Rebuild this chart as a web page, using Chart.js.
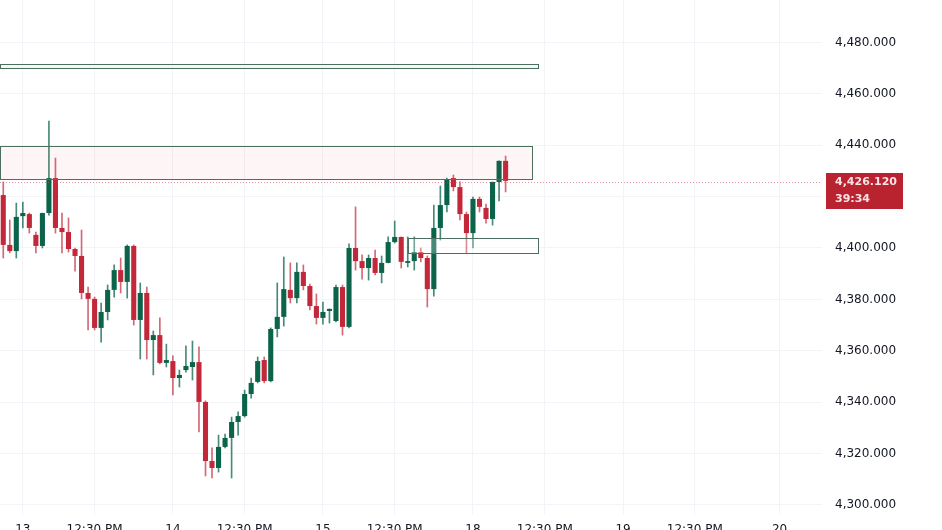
<!DOCTYPE html>
<html>
<head>
<meta charset="utf-8">
<title>XAUUSD 1H</title>
<script src="https://cdn.jsdelivr.net/npm/chart.js@4.4.1/dist/chart.umd.min.js"></script>
<style>
  html, body { margin: 0; padding: 0; background: #ffffff; }
  #wrap { width: 942px; height: 530px; }
</style>
</head>
<body>
<div id="wrap"><canvas id="candleChart" width="942" height="530"></canvas></div>
<script>
"use strict";

//velas de 1 hora
var opens = [4420.6, 4401.2, 4398.8, 4412.4, 4413.2, 4405.1, 4400.8, 4413.6, 4427.2, 4407.8,
  4406.2, 4399.6, 4396.9, 4382.5, 4380.2, 4368.9, 4375.1, 4383.7, 4391.4, 4386.8,
  4400.8, 4372.0, 4382.5, 4364.2, 4366.1, 4355.3, 4356.0, 4349.4, 4352.5, 4353.7,
  4355.6, 4340.1, 4317.1, 4314.4, 4322.6, 4326.1, 4332.3, 4334.6, 4343.2, 4347.9,
  4356.4, 4348.2, 4368.5, 4373.2, 4383.7, 4380.5, 4390.7, 4385.2, 4377.4, 4372.8,
  4375.5, 4371.6, 4384.8, 4369.3, 4400.0, 4394.9, 4392.2, 4396.1, 4390.3, 4394.2,
  4402.3, 4404.3, 4394.2, 4394.9, 4398.4, 4396.1, 4384.0, 4407.8, 4416.7, 4427.2,
  4423.7, 4413.2, 4405.8, 4419.1, 4415.6, 4411.3, 4425.7, 4433.9];
var highs = [4425.7, 4410.9, 4417.5, 4417.9, 4413.6, 4406.2, 4413.6, 4449.4, 4435.0, 4413.6,
  4411.7, 4400.0, 4407.0, 4384.8, 4380.9, 4378.6, 4385.6, 4393.4, 4396.1, 4401.2,
  4401.2, 4386.4, 4384.8, 4367.7, 4372.8, 4362.6, 4358.0, 4352.5, 4361.9, 4363.8,
  4361.5, 4340.5, 4322.2, 4327.2, 4327.6, 4334.2, 4336.2, 4344.7, 4349.4, 4357.6,
  4357.6, 4368.9, 4386.4, 4396.5, 4394.2, 4394.2, 4393.4, 4386.0, 4382.1, 4379.0,
  4376.3, 4385.6, 4385.6, 4401.6, 4416.0, 4397.3, 4397.3, 4399.2, 4396.9, 4404.3,
  4410.5, 4404.3, 4404.3, 4404.3, 4400.0, 4396.9, 4416.7, 4424.1, 4427.2, 4428.4,
  4425.7, 4414.0, 4419.8, 4419.8, 4417.1, 4425.7, 4433.9, 4435.8];
var lows = [4396.1, 4398.1, 4396.1, 4407.8, 4405.8, 4398.1, 4400.0, 4412.8, 4405.8, 4398.1,
  4398.4, 4391.0, 4380.2, 4368.1, 4368.1, 4363.4, 4372.0, 4380.9, 4382.5, 4380.5,
  4370.0, 4356.8, 4356.8, 4350.6, 4354.9, 4353.7, 4342.8, 4345.9, 4351.7, 4348.6,
  4328.4, 4311.3, 4310.5, 4312.8, 4322.2, 4310.5, 4327.2, 4334.2, 4341.6, 4347.5,
  4347.5, 4347.9, 4365.4, 4369.6, 4378.6, 4378.6, 4383.7, 4375.9, 4370.4, 4370.4,
  4370.8, 4371.2, 4366.1, 4368.9, 4391.4, 4387.9, 4387.5, 4389.5, 4386.4, 4394.2,
  4401.9, 4392.2, 4392.6, 4391.4, 4394.6, 4377.0, 4381.3, 4403.1, 4414.0, 4422.2,
  4410.9, 4398.1, 4400.0, 4414.0, 4409.7, 4408.9, 4418.3, 4421.8];
var closes = [4401.2, 4398.8, 4412.1, 4413.6, 4407.8, 4400.8, 4413.6, 4427.2, 4407.8, 4406.2,
  4399.6, 4396.9, 4382.5, 4380.2, 4368.9, 4375.1, 4383.7, 4391.4, 4386.8, 4400.8,
  4372.0, 4382.5, 4364.2, 4366.1, 4355.3, 4356.4, 4349.4, 4350.6, 4354.1, 4355.6,
  4340.1, 4317.1, 4314.4, 4322.6, 4326.1, 4332.3, 4334.6, 4343.2, 4347.5, 4356.0,
  4348.2, 4368.5, 4373.2, 4384.0, 4380.5, 4390.7, 4385.2, 4377.4, 4372.8, 4375.1,
  4376.3, 4384.8, 4369.3, 4400.0, 4394.9, 4392.2, 4396.1, 4390.3, 4394.2, 4402.3,
  4404.3, 4394.6, 4394.9, 4398.4, 4396.1, 4384.0, 4407.8, 4416.7, 4426.8, 4423.7,
  4413.2, 4405.8, 4419.1, 4416.0, 4411.3, 4425.7, 4433.9, 4426.12];

//eje de tiempo
var totalSlots = 126;
var tickSlots = [3, 14, 26, 37, 49, 60, 72, 83, 95, 106, 119];
var tickTexts = ['13', '12:30 PM', '14', '12:30 PM', '15', '12:30 PM', '18', '12:30 PM', '19', '12:30 PM', '20'];

//eje de precios
var priceTicks = [4300, 4320, 4340, 4360, 4380, 4400, 4420, 4440, 4460, 4480];

//zonas: [desde, hasta, precio bajo, precio alto]
var zoneFrom = [-0.5, -0.5, 62];
var zoneTo = [82, 81, 82];
var zoneLow = [4470.0, 4426.8, 4398.1];
var zoneHigh = [4471.6, 4439.7, 4403.9];

var lastPrice = 4426.12;
var countdown = '39:34';

var upColor = '#0b634a';
var downColor = '#c2283a';
var fontName = '"DejaVu Sans", sans-serif';

var labels = [];
var bodies = [];
var wicks = [];
var bodyColors = [];
var wickColors = [];
for (var i = 0; i < totalSlots; i++) {
  var pos = tickSlots.indexOf(i);
  labels.push(pos >= 0 ? tickTexts[pos] : '');
  if (i < opens.length) {
    var up = closes[i] >= opens[i];
    bodies.push([opens[i], closes[i]]);
    wicks.push([lows[i], highs[i]]);
    bodyColors.push(up ? upColor : downColor);
    wickColors.push(up ? 'rgba(11,99,74,0.75)' : 'rgba(194,40,58,0.7)');
  } else {
    bodies.push(null);
    wicks.push(null);
    bodyColors.push(upColor);
    wickColors.push(upColor);
  }
}

var zoneFills = ['rgba(240,244,242,0.6)', 'rgba(242,54,69,0.05)', 'rgba(255,255,255,0.25)'];

// quitar el relleno que chart.js deja para las etiquetas de los extremos
function noPadding(axis) {
  axis.paddingTop = 0;
  axis.paddingBottom = 0;
  axis.paddingLeft = 0;
  axis.paddingRight = 0;
}

var zonesPlugin = {
  id: 'zones',
  afterDatasetsDraw: function (chart) {
    var ctx = chart.ctx;
    var xs = chart.scales.x;
    var ys = chart.scales.y;
    var area = chart.chartArea;
    ctx.save();
    ctx.beginPath();
    ctx.rect(area.left, area.top, area.right - area.left, area.bottom - area.top);
    ctx.clip();
    for (var z = 0; z < zoneFrom.length; z++) {
      var x0 = Math.round(xs.getPixelForValue(zoneFrom[z]));
      var x1 = Math.round(xs.getPixelForValue(zoneTo[z]));
      var y0 = Math.round(ys.getPixelForValue(zoneHigh[z]));
      var y1 = Math.round(ys.getPixelForValue(zoneLow[z]));
      ctx.fillStyle = zoneFills[z];
      ctx.fillRect(x0, y0, x1 - x0, y1 - y0);
      ctx.strokeStyle = '#4d6f60';
      ctx.lineWidth = 1;
      ctx.strokeRect(x0 + 0.5, y0 + 0.5, x1 - x0, y1 - y0);
    }
    //linea del ultimo precio
    var py = Math.round(ys.getPixelForValue(lastPrice)) + 1.5;
    ctx.setLineDash([1, 2]);
    ctx.strokeStyle = 'rgba(214,80,95,0.6)';
    ctx.beginPath();
    ctx.moveTo(area.left, py);
    ctx.lineTo(area.right, py);
    ctx.stroke();
    ctx.restore();
  },
  afterDraw: function (chart) {
    var ctx = chart.ctx;
    var ys = chart.scales.y;
    var area = chart.chartArea;
    var py = Math.round(ys.getPixelForValue(lastPrice));
    ctx.save();
    ctx.fillStyle = '#b8232f';
    ctx.fillRect(area.right + 4, py - 8, 77, 36);
    ctx.fillStyle = '#fbe3e5';
    ctx.font = 'bold 11px ' + fontName;
    ctx.textBaseline = 'middle';
    ctx.textAlign = 'left';
    ctx.fillText(lastPrice.toLocaleString('en-US', { minimumFractionDigits: 3 }), area.right + 13, py + 1);
    ctx.fillText(countdown, area.right + 13, py + 18);
    ctx.restore();
  }
};

//-------------
//- CANDLE CHART -
//-------------
var candleCanvas = document.getElementById('candleChart').getContext('2d');
var candleChart = new Chart(candleCanvas, {
  type: 'bar',
  data: {
    labels: labels,
    datasets: [
      {
        label: 'Cuerpo',
        data: bodies,
        backgroundColor: bodyColors,
        borderWidth: 0,
        grouped: false,
        categoryPercentage: 1,
        barPercentage: 0.78,
        minBarLength: 1,
        order: 1
      },
      {
        label: 'Mecha',
        data: wicks,
        backgroundColor: wickColors,
        borderWidth: 0,
        grouped: false,
        barThickness: 1,
        order: 2
      }
    ]
  },
  options: {
    responsive: false,
    animation: false,
    devicePixelRatio: 1,
    layout: { padding: 0 },
    plugins: {
      legend: { display: false },
      tooltip: { enabled: false }
    },
    scales: {
      x: {
        offset: true,
        border: { display: false },
        grid: {
          drawTicks: false,
          offset: false,
          color: function (c) {
            return c.tick && c.tick.label ? '#f3f4f7' : 'rgba(0,0,0,0)';
          }
        },
        ticks: {
          autoSkip: false,
          maxRotation: 0,
          padding: 8,
          color: '#131722',
          font: { family: fontName, size: 12 }
        },
        afterFit: function (axis) {
          axis.height = 15;
          noPadding(axis);
        }
      },
      y: {
        position: 'right',
        min: 4296.1,
        max: 4496.5,
        border: { display: false },
        grid: { drawTicks: false, color: '#f3f4f7' },
        ticks: {
          padding: 13,
          color: '#131722',
          font: { family: fontName, size: 12 },
          callback: function (v) {
            return Number(v).toLocaleString('en-US', { minimumFractionDigits: 3 });
          }
        },
        afterBuildTicks: function (axis) {
          axis.ticks = priceTicks.map(function (v) { return { value: v }; });
        },
        afterFit: function (axis) {
          axis.width = 120;
          noPadding(axis);
        }
      }
    }
  },
  plugins: [zonesPlugin]
});
</script>
</body>
</html>
